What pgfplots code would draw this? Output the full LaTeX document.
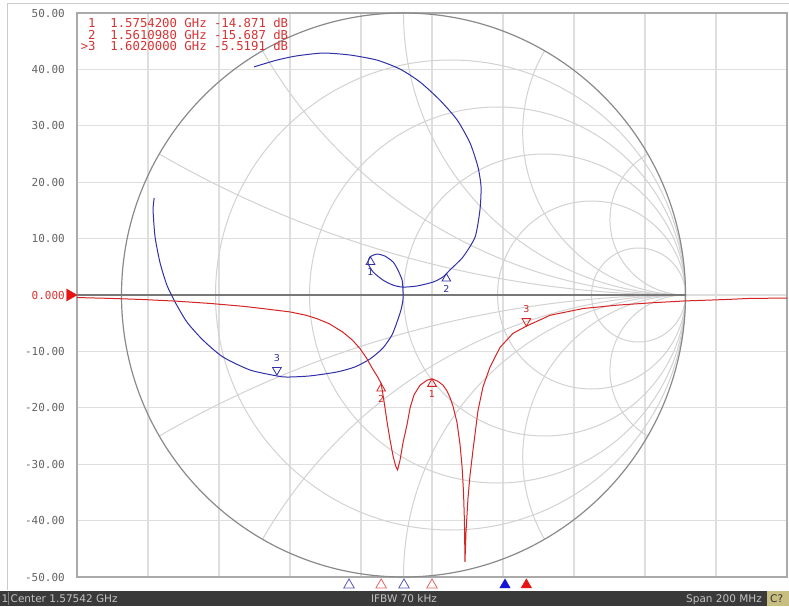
\documentclass[border=0pt]{standalone}
\usepackage{fontspec}
\setmainfont{DejaVu Sans}
\newfontfamily\vmono{DejaVu Sans Mono}
\usepackage{pgfplots}
\pgfplotsset{compat=1.18}
\definecolor{trRed}{RGB}{212,36,36}
\definecolor{txtRed}{RGB}{214,52,52}
\definecolor{trBlue}{RGB}{48,48,168}
\definecolor{mkBlue}{RGB}{20,20,215}
\definecolor{mkRed}{RGB}{230,20,20}
\definecolor{gridG}{RGB}{222,222,222}
\definecolor{smithG}{RGB}{210,210,210}
\definecolor{outerG}{RGB}{138,138,138}
\definecolor{realG}{RGB}{120,120,120}
\definecolor{frameG}{RGB}{170,170,170}
\definecolor{lblG}{RGB}{100,100,100}
\definecolor{barG}{RGB}{58,58,58}
\definecolor{barTxt}{RGB}{195,195,195}
\definecolor{chBox}{RGB}{200,190,130}
\pgfplotsset{plotbox/.style={at={(77pt,29pt)}, anchor=south west, scale only axis, width=710pt, height=564pt}}
\begin{document}
\begin{tikzpicture}
\path[use as bounding box, fill=white] (0,0) rectangle (789pt,606pt);
\draw[frameG!60, line width=1pt] (7pt,16pt) -- (7pt,602pt) -- (795pt,602pt);
\fill[barG] (0,0) rectangle (789pt,15pt);
\fill[chBox] (767pt,0) rectangle (789pt,15pt);
\draw[barTxt!50!barG] (8pt,1pt) -- (8pt,14pt);
\begin{scope}[every node/.style={inner sep=0pt, text=barTxt, font=\fontsize{10.5}{11}\selectfont}]
\node[anchor=base west] at (1.5pt,3.2pt) {1};
\node[anchor=base west] at (10.5pt,3.2pt) {Center 1.57542 GHz};
\node[anchor=base] at (404pt,3.2pt) {IFBW 70 kHz};
\node[anchor=base east] at (762pt,3.2pt) {Span 200 MHz};
\node[anchor=base west, text=black!80] at (770pt,3.2pt) {C?};
\end{scope}
% ---------- rectangular grid and tick labels ----------
\begin{axis}[plotbox,
  xmin=1475.42, xmax=1675.42, ymin=-50, ymax=50,
  xtick={1475.42,1495.42,1515.42,1535.42,1555.42,1575.42,1595.42,1615.42,1635.42,1655.42,1675.42},
  xticklabels={},
  ytick={-50,-40,-30,-20,-10,0,10,20,30,40,50},
  yticklabels={-50.00,-40.00,-30.00,-20.00,-10.00,{\color{txtRed}0.000},10.00,20.00,30.00,40.00,50.00},
  yticklabel style={font=\vmono\fontsize{11}{12}\selectfont, text=lblG, inner sep=0pt, anchor=east, xshift=-12pt},
  major tick length=0pt,
  xmajorgrids, ymajorgrids, grid style={gridG, line width=1.2pt},
  axis line style={draw=frameG, line width=1.2pt},
]
\end{axis}
% ---------- Smith chart (reflection coefficient plane) ----------
\begin{axis}[plotbox, hide axis, clip=false,
  xmin=-1.15780, xmax=1.35993, ymin=-1, ymax=1]
% constant resistance circles r = 0.2, 0.5, 1, 2, 5
\draw[smithG, line width=1pt] (axis cs:0.16667,0) circle[radius=235pt];
\draw[smithG, line width=1pt] (axis cs:0.33333,0) circle[radius=188pt];
\draw[smithG, line width=1pt] (axis cs:0.5,0) circle[radius=141pt];
\draw[smithG, line width=1pt] (axis cs:0.66667,0) circle[radius=94pt];
\draw[smithG, line width=1pt] (axis cs:0.83333,0) circle[radius=47pt];
% constant reactance arcs x = 0.268, 0.577, 1, 1.732, 3.732
\draw[smithG, line width=1pt] (axis cs:1,0) arc[start angle=-90, end angle=-120, radius=1052.4pt];
\draw[smithG, line width=1pt] (axis cs:1,0) arc[start angle=-90, end angle=-150, radius=488.4pt];
\draw[smithG, line width=1pt] (axis cs:1,0) arc[start angle=-90, end angle=-180, radius=282pt];
\draw[smithG, line width=1pt] (axis cs:1,0) arc[start angle=-90, end angle=-210, radius=162.8pt];
\draw[smithG, line width=1pt] (axis cs:1,0) arc[start angle=-90, end angle=-240, radius=75.56pt];
\draw[smithG, line width=1pt] (axis cs:1,0) arc[start angle=90, end angle=120, radius=1052.4pt];
\draw[smithG, line width=1pt] (axis cs:1,0) arc[start angle=90, end angle=150, radius=488.4pt];
\draw[smithG, line width=1pt] (axis cs:1,0) arc[start angle=90, end angle=180, radius=282pt];
\draw[smithG, line width=1pt] (axis cs:1,0) arc[start angle=90, end angle=210, radius=162.8pt];
\draw[smithG, line width=1pt] (axis cs:1,0) arc[start angle=90, end angle=240, radius=75.56pt];
\draw[outerG, line width=1.2pt] (axis cs:0,0) circle[radius=282pt];
\draw[realG, line width=1.1pt] (axis cs:-1.1578,0) -- (axis cs:1,0);
% S11 trace on the Smith chart
\addplot[trBlue, line width=1pt, smooth, tension=0.4] coordinates {
(-0.530,0.809) (-0.449,0.833) (-0.378,0.848) (-0.285,0.858) (-0.190,0.851) (-0.094,0.833)
(-0.012,0.801) (0.059,0.755) (0.129,0.691) (0.190,0.621) (0.236,0.539) (0.264,0.454)
(0.275,0.383) (0.271,0.301) (0.254,0.206) (0.211,0.135) (0.165,0.089) (0.140,0.064)
(0.105,0.046) (0.048,0.032) (-0.002,0.028) (-0.037,0.035) (-0.073,0.053) (-0.108,0.082)
(-0.126,0.113) (-0.119,0.135) (-0.094,0.145) (-0.066,0.138) (-0.037,0.117) (-0.020,0.089)
(-0.005,0.053) (-0.002,0.018) (-0.002,-0.018) (-0.009,-0.053) (-0.023,-0.096) (-0.041,-0.142)
(-0.073,-0.188) (-0.119,-0.227) (-0.172,-0.255) (-0.236,-0.273) (-0.332,-0.287) (-0.413,-0.291)
(-0.449,-0.287) (-0.544,-0.266) (-0.640,-0.220) (-0.711,-0.160) (-0.768,-0.096) (-0.810,-0.025)
(-0.839,0.035) (-0.863,0.113) (-0.881,0.206) (-0.888,0.301) (-0.884,0.344)};
\addplot[trBlue, only marks, mark=triangle, mark size=5pt, mark options={yshift=-5pt, line width=0.8pt}] coordinates {(-0.117,0.135) (0.152,0.076)};
\addplot[trBlue, only marks, mark=triangle, mark size=5pt, mark options={yshift=5pt, rotate=180, line width=0.8pt}] coordinates {(-0.449,-0.284)};
\node[text=trBlue, font=\fontsize{9.5}{9.5}\selectfont, yshift=-15pt] at (axis cs:-0.117,0.135) {1};
\node[text=trBlue, font=\fontsize{9.5}{9.5}\selectfont, yshift=-15pt] at (axis cs:0.152,0.076) {2};
\node[text=trBlue, font=\fontsize{9.5}{9.5}\selectfont, yshift=17pt] at (axis cs:-0.449,-0.284) {3};
\end{axis}
% ---------- log magnitude trace ----------
\begin{axis}[plotbox, hide axis, clip=false,
  xmin=1475.42, xmax=1675.42, ymin=-50, ymax=50]
\addplot[trRed, line width=1pt] coordinates {
(1475.42,-0.45) (1484.72,-0.6) (1494.0,-0.8) (1503.59,-1.1) (1513.0,-1.5) (1522.18,-2.0)
(1529.0,-2.5) (1535.42,-3.0) (1540.0,-3.6) (1543.03,-4.2) (1546.5,-5.1) (1550.35,-6.6)
(1553.0,-8.0) (1555.14,-9.5) (1557.0,-11.2) (1558.5,-12.9) (1560.0,-14.4) (1561.098,-15.687)
(1561.94,-19.0) (1562.78,-22.6) (1563.63,-25.8) (1564.47,-28.6) (1565.17,-30.3) (1565.73,-31.0)
(1566.41,-29.3) (1567.25,-26.2) (1568.38,-23.0) (1569.22,-20.1) (1570.35,-17.7) (1572.04,-16.0)
(1574.01,-15.1) (1575.42,-14.871) (1577.1,-15.3) (1578.52,-16.0) (1579.64,-17.0) (1580.5,-18.2)
(1581.33,-19.7) (1582.46,-22.6) (1583.31,-26.5) (1583.9,-30.5) (1584.3,-35.0) (1584.55,-40.0)
(1584.71,-47.3) (1585.0,-42.0) (1585.56,-36.0) (1586.12,-32.0) (1586.97,-27.5) (1588.37,-20.5)
(1589.78,-16.3) (1591.75,-12.8) (1594.57,-9.3) (1598.23,-6.8) (1602.0,-5.519) (1608.66,-3.6)
(1617.96,-2.4) (1627.54,-1.8) (1636.83,-1.4) (1646.69,-1.05) (1653.73,-0.9) (1660.0,-0.75)
(1665.0,-0.6) (1675.42,-0.55)};
\addplot[trRed, only marks, mark=triangle, mark size=5pt, mark options={yshift=-5pt, line width=0.8pt}] coordinates {(1575.42,-14.871) (1561.098,-15.687)};
\addplot[trRed, only marks, mark=triangle, mark size=5pt, mark options={yshift=5pt, rotate=180, line width=0.8pt}] coordinates {(1602.0,-5.519)};
\node[text=trRed, font=\fontsize{9.5}{9.5}\selectfont, yshift=-15pt] at (axis cs:1575.42,-14.871) {1};
\node[text=trRed, font=\fontsize{9.5}{9.5}\selectfont, yshift=-15pt] at (axis cs:1561.098,-15.687) {2};
\node[text=trRed, font=\fontsize{9.5}{9.5}\selectfont, yshift=17pt] at (axis cs:1602.0,-5.519) {3};
% reference level arrow
\addplot[mkRed, only marks, mark=triangle*, mark size=7pt, mark options={xshift=-7pt, rotate=-90, fill=mkRed}] coordinates {(1475.42,0)};
% stimulus marker indicators
\addplot[trBlue!80!white, only marks, mark=triangle, mark size=6pt, mark options={line width=0.8pt}] coordinates {(1552.04,-51.4) (1567.53,-51.4)};
\addplot[trRed!70!white, only marks, mark=triangle, mark size=6pt, mark options={line width=0.8pt}] coordinates {(1561.098,-51.4) (1575.42,-51.4)};
\addplot[mkBlue, only marks, mark=triangle*, mark size=6pt, mark options={fill=mkBlue}] coordinates {(1595.98,-51.4)};
\addplot[mkRed, only marks, mark=triangle*, mark size=6pt, mark options={fill=mkRed}] coordinates {(1602.0,-51.4)};
\end{axis}
% marker readout
\begin{scope}[every node/.style={inner sep=0pt, anchor=base west, text=txtRed, font=\vmono\fontsize{12.3}{12}\selectfont}]
\node at (88pt,578pt) {1\ \ 1.5754200 GHz -14.871 dB};
\node at (88pt,566.3pt) {2\ \ 1.5610980 GHz -15.687 dB};
\node at (80.6pt,555.3pt) {>3\ \ 1.6020000 GHz -5.5191 dB};
\end{scope}
\end{tikzpicture}
\end{document}
